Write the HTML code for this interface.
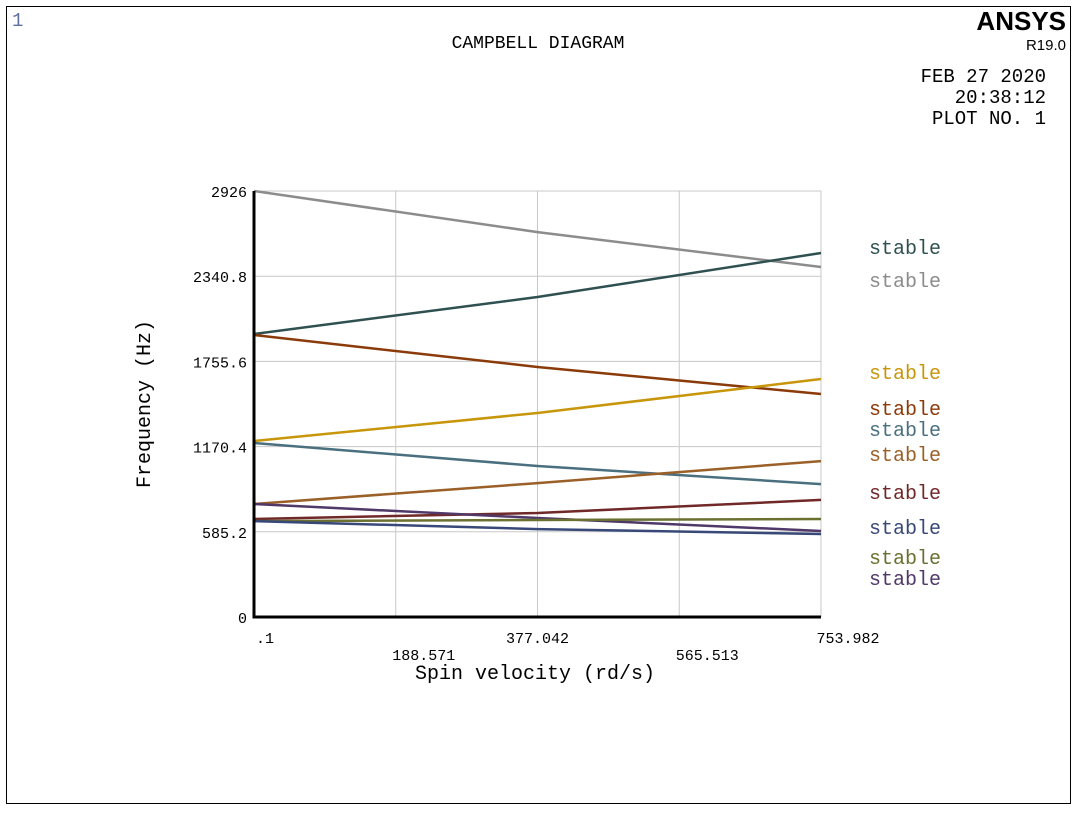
<!DOCTYPE html>
<html><head><meta charset="utf-8"><style>
html,body{margin:0;padding:0;background:#fff;}
svg text{font-family:"Liberation Mono","DejaVu Sans Mono",monospace;}
</style></head><body>
<svg width="1077" height="810" viewBox="0 0 1077 810" xmlns="http://www.w3.org/2000/svg">
<rect x="6.5" y="6.5" width="1064" height="797" fill="none" stroke="#000" stroke-width="1"/>
<text x="12" y="26" font-size="19" fill="#6070a0">1</text>
<text x="538" y="48" font-size="18" text-anchor="middle" fill="#000">CAMPBELL DIAGRAM</text>
<text x="1066" y="30" font-size="26" font-weight="bold" text-anchor="end" fill="#000" style="font-family:'Liberation Sans',sans-serif">ANSYS</text>
<text x="1066" y="50" font-size="15" text-anchor="end" fill="#000" style="font-family:'Liberation Sans',sans-serif">R19.0</text>
<text x="1046" y="82" font-size="19" text-anchor="end" fill="#000">FEB 27 2020</text>
<text x="1046" y="103" font-size="19" text-anchor="end" fill="#000">20:38:12</text>
<text x="1046" y="124" font-size="19" text-anchor="end" fill="#000">PLOT NO.   1</text>
<g id="grid"></g>
<g id="series"></g>
<g id="axes"></g>
<text x="150" y="404" font-size="20" text-anchor="middle" transform="rotate(-90 150 404)" fill="#000">Frequency (Hz)</text>
<text x="535" y="679" font-size="20" text-anchor="middle" fill="#000">Spin velocity (rd/s)</text>
<g id="labels"></g>
</svg>
<script>
const xTicks = [0.1, 188.571, 377.042, 565.513, 753.982];
const xTickLabels = [".1", "188.571", "377.042", "565.513", "753.982"];
const yTicks = [0, 585.2, 1170.4, 1755.6, 2340.8, 2926];
const yTickLabels = ["0", "585.2", "1170.4", "1755.6", "2340.8", "2926"];
const spinSpeeds = [0.1, 377.042, 753.982];
const mode1 = [2926, 2644, 2404];
const mode2 = [1944, 2198, 2500];
const mode3 = [1937, 1717, 1532];
const mode4 = [1209, 1401, 1635];
const mode5 = [1195, 1037, 913];
const mode6 = [776, 920, 1071];
const mode7 = [673, 714, 804];
const mode8 = [776, 680, 591];
const mode9 = [659, 666, 673];
const mode10 = [659, 604, 570];
const stabilityLabels = ["stable","stable","stable","stable","stable","stable","stable","stable","stable","stable"];

const NS = "http://www.w3.org/2000/svg";
const X0 = 254, X1 = 821, Y0 = 617, Y1 = 191;
const xScale = v => X0 + (v - 0.1) / (753.982 - 0.1) * (X1 - X0);
const yScale = v => Y0 - v / 2926 * (Y0 - Y1);
function mk(tag, attrs, parent) { const e = document.createElementNS(NS, tag); for (const k in attrs) e.setAttribute(k, attrs[k]); parent.appendChild(e); return e; }

const grid = document.getElementById('grid');
xTicks.forEach((t, i) => {
  if (i === 0) return;
  const l = mk('line', {x1: xScale(t), x2: xScale(t), y1: Y1, y2: Y0, stroke: '#c8c8c8', 'stroke-width': 1}, grid);
  
  
});
yTicks.forEach((t, i) => {
  if (i === 0) return;
  const l = mk('line', {x1: X0, x2: X1, y1: yScale(t), y2: yScale(t), stroke: '#c8c8c8', 'stroke-width': 1}, grid);
  
  
});

const series = [mode1, mode2, mode3, mode4, mode5, mode6, mode7, mode8, mode9, mode10];
const colors = ['#8c8c8c', '#2f5050', '#8b3a0a', '#c8960a', '#4a7080', '#9a6028', '#702828', '#503868', '#6a7030', '#384878'];
const sg = document.getElementById('series');
series.forEach((s, i) => {
  const pts = s.map((v, j) => xScale(spinSpeeds[j]).toFixed(1) + ',' + yScale(v).toFixed(1)).join(' ');
  const p = mk('polyline', {points: pts, fill: 'none', stroke: colors[i], 'stroke-width': 2.5}, sg);
  
  
});

const ax = document.getElementById('axes');
const ya = mk('line', {x1: X0, x2: X0, y1: Y1, y2: Y0 + 1.5, stroke: '#000', 'stroke-width': 3}, ax);


const xa = mk('line', {x1: X0 - 1.5, x2: X1, y1: Y0, y2: Y0, stroke: '#000', 'stroke-width': 3}, ax);


yTicks.forEach((t, i) => {
  const tx = mk('text', {x: 247, y: yScale(t) + 6, 'font-size': 15, 'text-anchor': 'end', fill: '#000'}, ax);
  tx.textContent = yTickLabels[i];
  
  
});
xTicks.forEach((t, i) => {
  const low = i % 2 === 1;
  const x = i === 0 ? xScale(t) + 2 : xScale(t) + (i === 4 ? 27 : (low ? 28 : 0));
  const tx = mk('text', {x: x, y: low ? 660 : 643, 'font-size': 15, 'text-anchor': i === 0 ? 'start' : 'middle', fill: '#000'}, ax);
  tx.textContent = xTickLabels[i];
  
  
});

const labelY = [248, 281, 373, 409, 430, 455, 493, 528, 558, 579];
const labelColors = ['#2f5050', '#8c8c8c', '#c8960a', '#8b3a0a', '#4a7080', '#9a6028', '#702828', '#384878', '#6a7030', '#503868'];
const lg = document.getElementById('labels');
stabilityLabels.forEach((s, i) => {
  const tx = mk('text', {x: 869, y: labelY[i] + 6, 'font-size': 20, fill: labelColors[i]}, lg);
  tx.textContent = s;
  
  
});
</script>
</body></html>
